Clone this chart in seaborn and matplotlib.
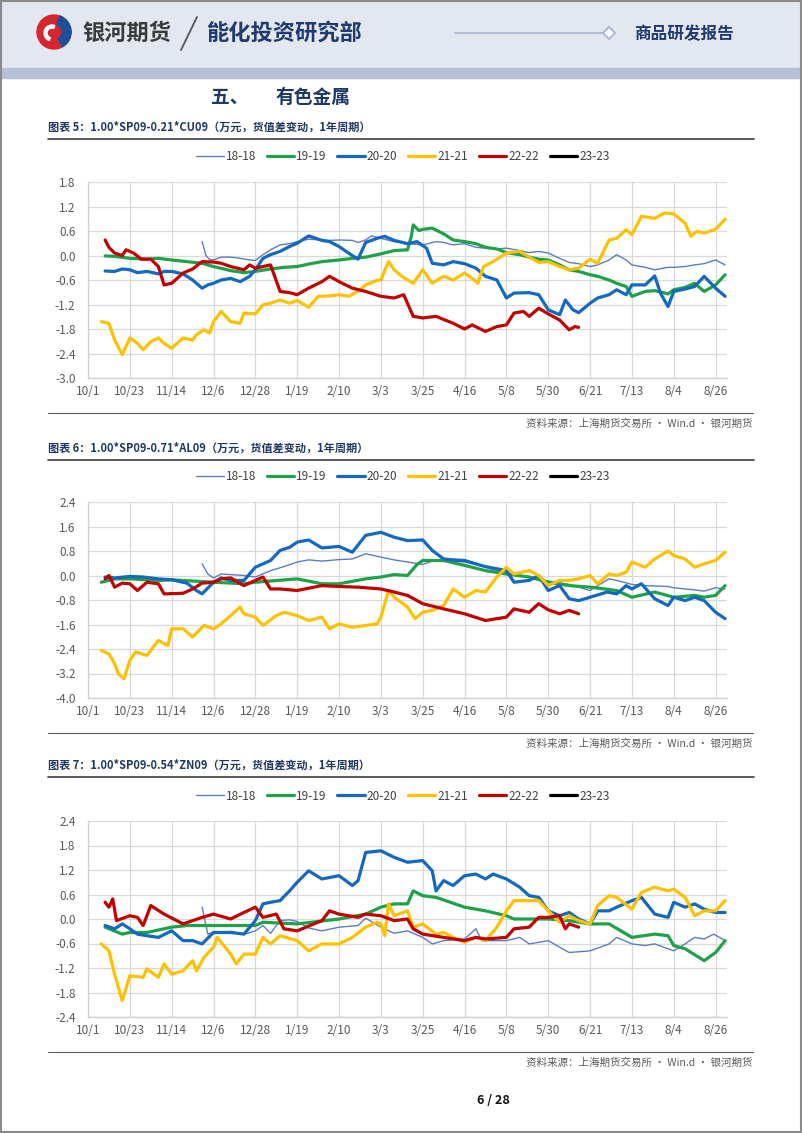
import matplotlib
matplotlib.use("Agg")
import matplotlib.pyplot as plt
import seaborn as sns
import pandas as pd
from matplotlib.lines import Line2D
from matplotlib.patches import Rectangle, Circle, Wedge

# ---------------- data ----------------
tick_labels = ["10/1", "10/23", "11/14", "12/6", "12/28", "1/19", "2/10", "3/3",
               "3/25", "4/16", "5/8", "5/30", "6/21", "7/13", "8/4", "8/26"]
series_names = ["18-18", "19-19", "20-20", "21-21", "22-22", "23-23"]
series_colors = ["#5b7cc4", "#1fa14a", "#1368c0", "#ffc000", "#c00000", "#000000"]
series_widths = [1.0, 2.3, 2.3, 2.3, 2.3, 2.3]

chart_titles = ["图表 5：1.00*SP09-0.21*CU09（万元，货值差变动，1年周期）",
                "图表 6：1.00*SP09-0.71*AL09（万元，货值差变动，1年周期）",
                "图表 7：1.00*SP09-0.54*ZN09（万元，货值差变动，1年周期）"]
y_ticks_cu = [-3.0, -2.4, -1.8, -1.2, -0.6, 0.0, 0.6, 1.2, 1.8]
y_ticks_al = [-4.0, -3.2, -2.4, -1.6, -0.8, 0.0, 0.8, 1.6, 2.4]
y_ticks_zn = [-2.4, -1.8, -1.2, -0.6, 0.0, 0.6, 1.2, 1.8, 2.4]
source_text = "资料来源：上海期货交易所 · Win.d · 银河期货"

cu_18 = [("11/30", 0.34), ("12/2", 0.0), ("12/4", -0.1), ("12/6", -0.11), ("12/10", -0.04), ("12/15", -0.04),
         ("12/20", -0.07), ("12/25", -0.11), ("12/28", -0.12), ("1/1", 0.02), ("1/5", 0.14), ("1/10", 0.26),
         ("1/15", 0.29), ("1/19", 0.34), ("1/25", 0.40), ("2/1", 0.38), ("2/5", 0.37), ("2/10", 0.38),
         ("2/17", 0.37), ("2/20", 0.32), ("2/24", 0.38), ("2/27", 0.48), ("3/3", 0.42), ("3/10", 0.34),
         ("3/17", 0.29), ("3/25", 0.26), ("4/1", 0.34), ("4/5", 0.32), ("4/10", 0.26), ("4/16", 0.29),
         ("4/22", 0.20), ("4/27", 0.18), ("5/3", 0.16), ("5/8", 0.18), ("5/15", 0.12), ("5/20", 0.07),
         ("5/25", 0.10), ("5/30", 0.06), ("6/5", -0.07), ("6/10", -0.17), ("6/15", -0.2), ("6/21", -0.27),
         ("6/25", -0.23), ("7/1", -0.11), ("7/5", 0.02), ("7/10", -0.11), ("7/13", -0.23), ("7/20", -0.29),
         ("7/25", -0.35), ("8/1", -0.29), ("8/4", -0.29), ("8/10", -0.27), ("8/15", -0.23), ("8/20", -0.2),
         ("8/26", -0.11), ("8/31", -0.23)]
cu_19 = [("10/10", -0.01), ("10/15", -0.02), ("10/23", -0.07), ("11/1", -0.09), ("11/7", -0.07), ("11/14", -0.11),
         ("11/22", -0.15), ("11/30", -0.19), ("12/6", -0.27), ("12/15", -0.37), ("12/22", -0.42), ("12/28", -0.39),
         ("1/5", -0.33), ("1/12", -0.29), ("1/19", -0.27), ("1/25", -0.21), ("2/1", -0.15), ("2/10", -0.11),
         ("2/17", -0.07), ("2/24", -0.04), ("3/3", 0.04), ("3/10", 0.12), ("3/17", 0.14), ("3/19", 0.47),
         ("3/20", 0.75), ("3/23", 0.61), ("3/25", 0.64), ("3/30", 0.67), ("4/5", 0.53), ("4/10", 0.38),
         ("4/16", 0.34), ("4/22", 0.29), ("4/27", 0.20), ("5/3", 0.16), ("5/8", 0.07), ("5/15", 0.02),
         ("5/20", -0.04), ("5/25", -0.09), ("5/30", -0.11), ("6/5", -0.23), ("6/10", -0.35), ("6/15", -0.39),
         ("6/21", -0.47), ("6/25", -0.51), ("7/1", -0.6), ("7/5", -0.68), ("7/10", -0.76), ("7/13", -1.0),
         ("7/20", -0.88), ("7/25", -0.86), ("8/1", -0.94), ("8/4", -0.84), ("8/10", -0.78), ("8/15", -0.68),
         ("8/20", -0.88), ("8/26", -0.72), ("8/31", -0.47)]
cu_20 = [("10/10", -0.38), ("10/15", -0.39), ("10/19", -0.33), ("10/23", -0.35), ("10/27", -0.42), ("11/1", -0.39),
         ("11/7", -0.45), ("11/10", -0.39), ("11/14", -0.39), ("11/20", -0.45), ("11/25", -0.6), ("11/30", -0.8),
         ("12/3", -0.72), ("12/6", -0.68), ("12/10", -0.6), ("12/15", -0.56), ("12/20", -0.64), ("12/25", -0.51),
         ("12/28", -0.35), ("1/1", -0.07), ("1/5", 0.02), ("1/10", 0.10), ("1/15", 0.22), ("1/19", 0.30),
         ("1/25", 0.48), ("2/1", 0.37), ("2/5", 0.34), ("2/10", 0.22), ("2/15", 0.06), ("2/20", -0.09),
         ("2/24", 0.32), ("3/1", 0.42), ("3/5", 0.47), ("3/10", 0.37), ("3/17", 0.29), ("3/22", 0.34),
         ("3/27", 0.18), ("3/30", -0.19), ("4/5", -0.23), ("4/10", -0.15), ("4/16", -0.2), ("4/22", -0.31),
         ("4/27", -0.51), ("5/3", -0.6), ("5/8", -1.04), ("5/12", -0.92), ("5/20", -0.91), ("5/25", -0.96),
         ("5/30", -1.33), ("6/5", -1.45), ("6/8", -1.09), ("6/12", -1.33), ("6/15", -1.4), ("6/21", -1.17),
         ("6/25", -1.04), ("7/1", -0.96), ("7/5", -0.84), ("7/10", -0.96), ("7/13", -0.72), ("7/20", -0.72),
         ("7/25", -0.5), ("7/28", -0.92), ("8/1", -1.25), ("8/4", -0.88), ("8/10", -0.82), ("8/15", -0.76),
         ("8/20", -0.51), ("8/26", -0.8), ("8/31", -1.0)]
cu_21 = [("10/8", -1.62), ("10/12", -1.66), ("10/15", -2.07), ("10/19", -2.43), ("10/23", -2.02), ("10/27", -2.15),
         ("10/30", -2.31), ("11/3", -2.11), ("11/7", -2.02), ("11/10", -2.15), ("11/14", -2.27), ("11/20", -2.02),
         ("11/25", -2.07), ("11/27", -1.94), ("12/1", -1.82), ("12/4", -1.9), ("12/6", -1.62), ("12/10", -1.37),
         ("12/15", -1.62), ("12/20", -1.66), ("12/22", -1.41), ("12/28", -1.43), ("1/1", -1.21), ("1/5", -1.17),
         ("1/10", -1.09), ("1/15", -1.17), ("1/19", -1.1), ("1/25", -1.27), ("1/30", -1.0), ("2/5", -0.99),
         ("2/10", -0.96), ("2/15", -1.0), ("2/20", -0.88), ("2/24", -0.72), ("3/1", -0.61), ("3/3", -0.6),
         ("3/7", -0.15), ("3/10", -0.35), ("3/14", -0.51), ("3/20", -0.68), ("3/25", -0.35), ("3/30", -0.68),
         ("4/5", -0.51), ("4/10", -0.6), ("4/16", -0.43), ("4/20", -0.56), ("4/23", -0.68), ("4/26", -0.27),
         ("5/1", -0.15), ("5/8", 0.06), ("5/15", 0.10), ("5/20", -0.04), ("5/25", -0.17), ("5/30", -0.15),
         ("6/5", -0.27), ("6/10", -0.35), ("6/15", -0.31), ("6/21", -0.09), ("6/25", -0.19), ("7/1", 0.38),
         ("7/5", 0.42), ("7/10", 0.63), ("7/13", 0.51), ("7/18", 0.96), ("7/25", 0.91), ("7/30", 1.04),
         ("8/4", 1.02), ("8/10", 0.79), ("8/13", 0.47), ("8/16", 0.59), ("8/20", 0.55), ("8/26", 0.64),
         ("8/31", 0.89)]
cu_22 = [("10/10", 0.38), ("10/12", 0.20), ("10/15", 0.06), ("10/19", 0.0), ("10/21", 0.14), ("10/25", 0.06),
         ("10/29", -0.09), ("11/3", -0.09), ("11/7", -0.27), ("11/10", -0.72), ("11/14", -0.68), ("11/20", -0.43),
         ("11/25", -0.33), ("11/30", -0.15), ("12/6", -0.16), ("12/10", -0.19), ("12/15", -0.27), ("12/22", -0.35),
         ("12/25", -0.23), ("12/28", -0.31), ("1/1", -0.27), ("1/5", -0.23), ("1/10", -0.88), ("1/15", -0.91),
         ("1/19", -0.96), ("1/25", -0.8), ("2/1", -0.64), ("2/5", -0.51), ("2/10", -0.64), ("2/17", -0.8),
         ("2/24", -0.88), ("3/3", -1.0), ("3/10", -1.04), ("3/15", -0.96), ("3/20", -1.49), ("3/25", -1.53),
         ("4/1", -1.49), ("4/10", -1.66), ("4/16", -1.8), ("4/20", -1.7), ("4/27", -1.86), ("5/3", -1.74),
         ("5/8", -1.7), ("5/12", -1.41), ("5/17", -1.37), ("5/20", -1.49), ("5/25", -1.29), ("5/30", -1.43),
         ("6/5", -1.58), ("6/10", -1.82), ("6/13", -1.74), ("6/15", -1.76)]

al_18 = [("11/30", 0.38), ("12/3", 0.05), ("12/6", -0.08), ("12/10", 0.05), ("12/15", 0.03), ("12/22", 0.0),
         ("12/28", -0.05), ("1/5", 0.16), ("1/12", 0.29), ("1/19", 0.44), ("1/25", 0.51), ("2/1", 0.47),
         ("2/10", 0.52), ("2/17", 0.54), ("2/24", 0.71), ("3/3", 0.60), ("3/10", 0.51), ("3/17", 0.44),
         ("3/25", 0.36), ("3/30", 0.47), ("4/5", 0.49), ("4/16", 0.44), ("4/22", 0.36), ("4/27", 0.27),
         ("5/3", 0.16), ("5/8", 0.05), ("5/20", -0.05), ("5/30", -0.18), ("6/10", -0.29), ("6/21", -0.49),
         ("6/25", -0.33), ("7/1", -0.11), ("7/5", -0.16), ("7/13", -0.29), ("7/20", -0.33), ("8/1", -0.36),
         ("8/4", -0.4), ("8/15", -0.47), ("8/20", -0.51), ("8/26", -0.4), ("8/31", -0.44)]
al_19 = [("10/8", -0.22), ("10/15", -0.11), ("10/23", -0.11), ("11/7", -0.16), ("11/14", -0.14), ("12/6", -0.22),
         ("12/22", -0.27), ("12/28", -0.22), ("1/19", -0.11), ("2/1", -0.27), ("2/10", -0.27), ("2/24", -0.11),
         ("3/3", -0.05), ("3/10", 0.03), ("3/17", 0.0), ("3/22", 0.36), ("3/25", 0.49), ("4/5", 0.49),
         ("4/16", 0.33), ("4/27", 0.16), ("5/8", 0.05), ("5/20", -0.05), ("5/30", -0.22), ("6/10", -0.33),
         ("6/21", -0.38), ("7/5", -0.49), ("7/13", -0.71), ("7/25", -0.54), ("8/4", -0.71), ("8/15", -0.65),
         ("8/20", -0.71), ("8/26", -0.65), ("8/31", -0.33)]
al_20 = [("10/10", -0.05), ("10/15", -0.08), ("10/23", -0.03), ("10/30", -0.05), ("11/7", -0.11), ("11/14", -0.14),
         ("11/22", -0.25), ("11/27", -0.49), ("11/30", -0.6), ("12/6", -0.22), ("12/10", -0.08), ("12/15", -0.16),
         ("12/22", -0.16), ("12/28", 0.27), ("1/5", 0.49), ("1/10", 0.82), ("1/15", 0.92), ("1/19", 1.09),
         ("1/25", 1.16), ("2/1", 0.90), ("2/10", 0.95), ("2/17", 0.76), ("2/24", 1.31), ("3/3", 1.41),
         ("3/10", 1.25), ("3/17", 1.14), ("3/25", 1.16), ("3/30", 0.82), ("4/5", 0.54), ("4/10", 0.51),
         ("4/16", 0.49), ("4/22", 0.38), ("4/27", 0.29), ("5/3", 0.22), ("5/8", 0.16), ("5/12", -0.22),
         ("5/20", -0.16), ("5/25", 0.0), ("5/30", -0.49), ("6/5", -0.33), ("6/10", -0.76), ("6/15", -0.82),
         ("6/21", -0.71), ("6/30", -0.54), ("7/5", -0.6), ("7/10", -0.33), ("7/13", -0.44), ("7/18", -0.27),
         ("7/25", -0.76), ("8/1", -0.98), ("8/4", -0.71), ("8/10", -0.82), ("8/15", -0.71), ("8/20", -0.82),
         ("8/26", -1.2), ("8/31", -1.41)]
al_21 = [("10/8", -2.45), ("10/12", -2.56), ("10/15", -2.88), ("10/17", -3.21), ("10/20", -3.37), ("10/23", -2.77),
         ("10/26", -2.5), ("11/1", -2.61), ("11/7", -2.12), ("11/12", -2.29), ("11/14", -1.74), ("11/20", -1.74),
         ("11/25", -2.01), ("12/1", -1.63), ("12/6", -1.74), ("12/10", -1.58), ("12/15", -1.31), ("12/20", -1.03),
         ("12/22", -1.25), ("12/28", -1.36), ("1/1", -1.63), ("1/8", -1.31), ("1/12", -1.2), ("1/19", -1.31),
         ("1/25", -1.47), ("2/1", -1.36), ("2/5", -1.74), ("2/10", -1.58), ("2/17", -1.69), ("2/24", -1.63),
         ("3/1", -1.58), ("3/3", -1.36), ("3/7", -0.49), ("3/10", -0.71), ("3/17", -1.03), ("3/21", -1.41),
         ("3/25", -1.2), ("3/30", -1.14), ("4/5", -0.98), ("4/10", -0.44), ("4/16", -0.71), ("4/22", -0.49),
         ("4/27", -0.54), ("5/3", -0.05), ("5/8", 0.27), ("5/12", 0.05), ("5/20", 0.16), ("5/25", 0.0),
         ("5/30", -0.33), ("6/5", -0.16), ("6/10", -0.16), ("6/15", -0.11), ("6/21", 0.0), ("6/25", -0.27),
         ("7/1", 0.05), ("7/5", 0.0), ("7/10", 0.11), ("7/13", 0.44), ("7/20", 0.27), ("7/25", 0.54),
         ("8/1", 0.80), ("8/4", 0.65), ("8/10", 0.54), ("8/15", 0.27), ("8/20", 0.38), ("8/26", 0.49),
         ("8/31", 0.76)]
al_22 = [("10/10", -0.11), ("10/12", 0.0), ("10/15", -0.38), ("10/19", -0.25), ("10/23", -0.27), ("10/27", -0.49),
         ("11/1", -0.22), ("11/7", -0.27), ("11/10", -0.6), ("11/20", -0.58), ("11/25", -0.44), ("11/30", -0.25),
         ("12/6", -0.22), ("12/10", -0.11), ("12/15", -0.08), ("12/22", -0.33), ("12/28", -0.16), ("1/1", -0.05),
         ("1/5", -0.44), ("1/10", -0.44), ("1/19", -0.49), ("2/1", -0.33), ("2/10", -0.36), ("2/20", -0.38),
         ("3/3", -0.44), ("3/10", -0.54), ("3/17", -0.65), ("3/25", -0.92), ("4/5", -1.09), ("4/16", -1.25),
         ("4/27", -1.47), ("5/8", -1.36), ("5/12", -1.09), ("5/20", -1.2), ("5/25", -0.92), ("5/30", -1.12),
         ("6/5", -1.25), ("6/10", -1.14), ("6/15", -1.25)]

zn_18 = [("11/30", 0.29), ("12/3", -0.37), ("12/6", -0.33), ("12/10", -0.35), ("12/15", -0.3), ("12/22", -0.38),
         ("12/28", -0.29), ("1/1", -0.16), ("1/5", -0.35), ("1/10", -0.04), ("1/15", -0.02), ("1/19", -0.06),
         ("1/25", -0.22), ("2/1", -0.29), ("2/10", -0.2), ("2/20", -0.16), ("2/24", 0.02), ("3/3", -0.2),
         ("3/10", -0.35), ("3/17", -0.29), ("3/25", -0.45), ("3/30", -0.61), ("4/5", -0.53), ("4/16", -0.49),
         ("4/22", -0.24), ("4/25", -0.53), ("5/8", -0.53), ("5/15", -0.45), ("5/20", -0.61), ("5/30", -0.53),
         ("6/5", -0.69), ("6/10", -0.82), ("6/21", -0.78), ("7/1", -0.61), ("7/5", -0.45), ("7/13", -0.61),
         ("7/20", -0.65), ("7/25", -0.61), ("8/1", -0.73), ("8/4", -0.78), ("8/10", -0.61), ("8/15", -0.45),
         ("8/20", -0.49), ("8/25", -0.37), ("8/31", -0.53)]
zn_19 = [("10/10", -0.2), ("10/19", -0.37), ("10/23", -0.33), ("11/1", -0.33), ("11/14", -0.2), ("11/22", -0.16),
         ("12/6", -0.16), ("12/28", -0.16), ("1/1", -0.08), ("1/19", -0.12), ("2/10", 0.0), ("2/24", 0.12),
         ("3/3", 0.29), ("3/10", 0.37), ("3/17", 0.37), ("3/20", 0.69), ("3/25", 0.57), ("4/1", 0.53),
         ("4/16", 0.29), ("4/27", 0.20), ("5/8", 0.08), ("5/12", 0.0), ("5/30", 0.0), ("6/10", -0.04),
         ("6/21", -0.12), ("7/1", -0.12), ("7/13", -0.45), ("7/25", -0.37), ("8/1", -0.41), ("8/4", -0.65),
         ("8/10", -0.73), ("8/20", -1.02), ("8/26", -0.82), ("8/31", -0.53)]
zn_20 = [("10/10", -0.16), ("10/15", -0.24), ("10/19", -0.12), ("10/23", -0.24), ("10/27", -0.37), ("11/1", -0.41),
         ("11/7", -0.45), ("11/14", -0.29), ("11/20", -0.53), ("11/25", -0.53), ("11/30", -0.61), ("12/6", -0.33),
         ("12/15", -0.33), ("12/22", -0.37), ("12/28", -0.04), ("1/1", 0.37), ("1/5", 0.41), ("1/10", 0.45),
         ("1/15", 0.69), ("1/19", 0.90), ("1/25", 1.18), ("2/1", 0.98), ("2/10", 1.06), ("2/17", 0.82),
         ("2/20", 0.94), ("2/24", 1.63), ("3/3", 1.67), ("3/10", 1.51), ("3/17", 1.39), ("3/25", 1.43),
         ("3/30", 1.18), ("4/1", 0.69), ("4/5", 0.94), ("4/10", 0.82), ("4/16", 1.06), ("4/22", 1.10),
         ("4/27", 0.98), ("5/1", 1.10), ("5/8", 0.98), ("5/15", 0.78), ("5/20", 0.57), ("5/25", 0.53),
         ("5/30", 0.20), ("6/5", 0.08), ("6/10", 0.16), ("6/15", 0.0), ("6/21", -0.12), ("6/25", 0.20),
         ("7/1", 0.20), ("7/5", 0.29), ("7/13", 0.45), ("7/18", 0.53), ("7/25", 0.12), ("8/1", 0.04),
         ("8/4", 0.41), ("8/10", 0.29), ("8/15", 0.37), ("8/20", 0.24), ("8/26", 0.16), ("8/31", 0.16)]
zn_21 = [("10/8", -0.61), ("10/12", -0.78), ("10/15", -1.35), ("10/19", -2.0), ("10/23", -1.39), ("10/30", -1.43),
         ("11/1", -1.22), ("11/7", -1.43), ("11/10", -1.1), ("11/14", -1.35), ("11/20", -1.27), ("11/25", -1.02),
         ("11/27", -1.27), ("12/1", -0.94), ("12/6", -0.69), ("12/8", -0.45), ("12/15", -0.86), ("12/18", -1.1),
         ("12/22", -0.86), ("12/28", -0.86), ("1/1", -0.45), ("1/5", -0.61), ("1/10", -0.41), ("1/19", -0.53),
         ("1/25", -0.78), ("2/1", -0.61), ("2/10", -0.61), ("2/17", -0.45), ("2/24", -0.2), ("3/1", -0.08),
         ("3/3", -0.12), ("3/5", -0.41), ("3/7", 0.37), ("3/10", 0.08), ("3/17", 0.20), ("3/20", -0.2),
         ("3/25", -0.12), ("4/1", -0.37), ("4/5", -0.33), ("4/10", -0.45), ("4/16", -0.57), ("4/22", -0.45),
         ("4/27", -0.53), ("5/3", -0.2), ("5/8", 0.20), ("5/12", 0.45), ("5/20", 0.45), ("5/25", 0.45),
         ("5/30", 0.20), ("6/5", -0.08), ("6/10", 0.08), ("6/15", -0.04), ("6/21", -0.12), ("6/25", 0.33),
         ("7/1", 0.57), ("7/5", 0.53), ("7/13", 0.24), ("7/18", 0.65), ("7/25", 0.78), ("8/1", 0.69),
         ("8/4", 0.73), ("8/10", 0.53), ("8/15", 0.08), ("8/20", 0.20), ("8/26", 0.20), ("8/31", 0.45)]
zn_22 = [("10/10", 0.41), ("10/12", 0.29), ("10/14", 0.49), ("10/16", -0.04), ("10/23", 0.08), ("10/27", 0.04),
         ("10/30", -0.16), ("11/3", 0.33), ("11/10", 0.12), ("11/20", -0.12), ("11/30", 0.04), ("12/6", 0.12),
         ("12/15", 0.0), ("12/22", 0.16), ("12/28", 0.29), ("1/1", 0.04), ("1/8", 0.12), ("1/12", -0.24),
         ("1/19", -0.29), ("2/1", -0.04), ("2/5", 0.20), ("2/10", 0.12), ("2/20", 0.04), ("2/24", 0.12),
         ("3/3", 0.08), ("3/10", -0.04), ("3/17", 0.0), ("3/20", -0.24), ("3/25", -0.37), ("4/5", -0.45),
         ("4/16", -0.53), ("4/22", -0.45), ("4/27", -0.49), ("5/8", -0.45), ("5/12", -0.24), ("5/20", -0.2),
         ("5/25", 0.04), ("5/30", 0.04), ("6/5", 0.08), ("6/8", -0.24), ("6/10", -0.12), ("6/15", -0.2)]
empty_23 = []

# ---------------- helpers ----------------
BASE = pd.Timestamp("2019-10-01")


def day(md):
    m, d = map(int, md.split("/"))
    y = 2019 if m >= 10 else 2020
    return (pd.Timestamp(year=y, month=m, day=d) - BASE).days


sns.set_theme(style="white")
plt.rcParams['font.family'] = ['Noto Sans CJK SC', 'DejaVu Sans']

W, H = 802, 1133
fig = plt.figure(figsize=(W / 100, H / 100), dpi=100)
bg = fig.add_axes([0, 0, 1, 1], zorder=0)
bg.set_xlim(0, W)
bg.set_ylim(H, 0)
bg.axis('off')

NAVY = "#1f3864"

# header
bg.add_patch(Rectangle((0, 0), W, 68, color="#e3e7ef", zorder=0))
bg.add_patch(Rectangle((0, 68), W, 10, color="#b6c0d6", zorder=0))
bg.add_patch(Circle((54, 32), 17, color="#d6262e", zorder=2))
bg.add_patch(Wedge((54, 32), 17, -70, 60, width=9, color="#1d4f9c", zorder=3))
bg.add_patch(Wedge((52, 33), 8, 110, 290, width=3, color="white", zorder=3))
bg.text(82, 33, "银河期货", fontsize=16, weight='bold', color="#3b3b3b", va='center', ha='left')
bg.plot([197, 181], [17, 50], color="#555555", lw=1.3)
bg.text(207, 33, "能化投资研究部", fontsize=16, weight='bold', color="#1f3a6e", va='center', ha='left')
bg.plot([455, 603], [33, 33], color="#aab6cf", lw=1.2)
bg.plot([609], [33], marker='D', ms=6, mfc='white', mec='#9fb0d0', mew=1.2)
bg.text(634, 34, "商品研发报告", fontsize=12, weight='bold', color="#1f3a6e", va='center', ha='left')

bg.text(211, 97, "五、", fontsize=13.5, weight='bold', color=NAVY, va='center', ha='left')
bg.text(276, 97, "有色金属", fontsize=13.5, weight='bold', color=NAVY, va='center', ha='left')

bg.text(493, 1100, "6 / 28", fontsize=9, weight='bold', color="#111111", va='center', ha='center')
bg.add_patch(Rectangle((1, 1), W - 2, H - 2, fill=False, ec="#8a8a8a", lw=1.5, zorder=5))

charts = [
    (chart_titles[0], [cu_18, cu_19, cu_20, cu_21, cu_22, empty_23], y_ticks_cu, 127, 182, 378),
    (chart_titles[1], [al_18, al_19, al_20, al_21, al_22, empty_23], y_ticks_al, 448, 502, 698),
    (chart_titles[2], [zn_18, zn_19, zn_20, zn_21, zn_22, empty_23], y_ticks_zn, 765, 821, 1017),
]

AX_L, AX_R = 88, 727
tick_pos = [day(t) for t in tick_labels]

for title, series, yticks, ty, top, bot in charts:
    bg.text(48, ty, title, fontsize=8, weight='bold', color=NAVY, va='center', ha='left')
    bg.plot([48, 754], [ty + 12, ty + 12], color="#3c3c3c", lw=1.2)
    bg.plot([48, 753], [bot + 35, bot + 35], color="#5a5a5a", lw=0.8)
    bg.text(753, bot + 46, source_text, fontsize=7.6, color="#595959", va='center', ha='right')

    ax = fig.add_axes([AX_L / W, 1 - bot / H, (AX_R - AX_L) / W, (bot - top) / H], zorder=2)
    ax.set_facecolor('none')
    for name, data, col, lw in zip(series_names, series, series_colors, series_widths):
        if not data:
            continue
        df = pd.DataFrame(data, columns=["date", "value"])
        df["day"] = df["date"].map(day)
        sns.lineplot(data=df, x="day", y="value", ax=ax, color=col, linewidth=lw,
                     estimator=None, sort=False, legend=False)
    ax.set_xlim(0, 336)
    ax.set_ylim(yticks[0], yticks[-1])
    ax.set_xticks(tick_pos)
    ax.set_xticklabels(tick_labels)
    ax.set_yticks(yticks)
    ax.set_yticklabels([f"{v:.1f}" for v in yticks])
    ax.set_xlabel("")
    ax.set_ylabel("")
    ax.grid(True, color="#d9d9d9", lw=0.9)
    ax.set_axisbelow(True)
    for s in ["top", "right"]:
        ax.spines[s].set_visible(False)
    for s in ["left", "bottom"]:
        ax.spines[s].set_color("#d0d0d0")
        ax.spines[s].set_linewidth(1.0)
    ax.tick_params(length=0, labelsize=8.5, colors="#595959")
    ax.tick_params(axis='x', pad=5)
    ax.tick_params(axis='y', pad=9)

    handles = [Line2D([0], [0], color=c, lw=lw) for c, lw in zip(series_colors, series_widths)]
    fig.legend(handles, series_names, loc='center', bbox_to_anchor=(403 / W, 1 - (top - 25) / H),
               ncol=6, frameon=False, fontsize=8.5, handlelength=2.3, handletextpad=0.2,
               columnspacing=0.9, labelcolor="#404040")

fig.savefig("out.png", dpi=100)
